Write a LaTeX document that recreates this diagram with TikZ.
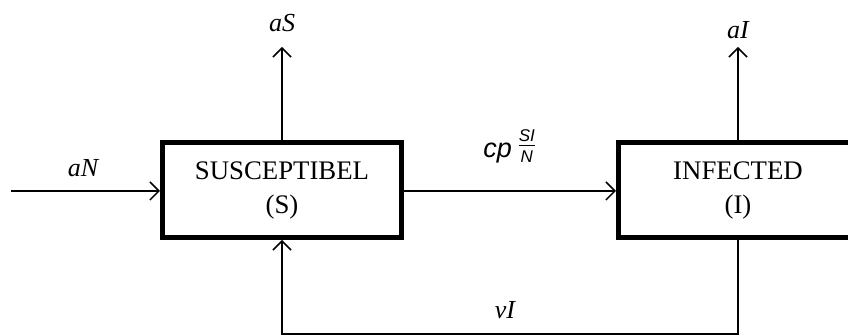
\documentclass[tikz,border=0pt]{standalone}
\usepackage{fontspec}
\setmainfont{Liberation Serif}
\newfontfamily\sansfam{Liberation Sans}
\usetikzlibrary{arrows.meta}
\begin{document}
\begin{tikzpicture}[x=0.5pt,y=-0.5pt,
  box/.style={draw,line width=2.5pt,minimum width=119.5pt,minimum height=47.5pt,inner sep=0pt,align=center,font=\fontsize{13.4}{17}\selectfont},
  conn/.style={line width=0.75pt,-{Straight Barb[length=4.5pt,width=9pt,line width=0.75pt]}},
  lab/.style={font=\fontsize{13}{14}\selectfont\itshape,inner sep=0pt}]
\useasboundingbox (0,0) rectangle (848,336);
\clip (0,0) rectangle (848,336);
\node[box] (S) at (282,190) {SUSCEPTIBEL\\(S)};
\node[box] (I) at (738,190) {INFECTED\\(I)};
\coordinate (inL) at (11,191);
\coordinate (topS) at (282,47);
\coordinate (topI) at (738,47);
\coordinate (botI) at (738,334);
\coordinate (botS) at (282,334);
\draw[conn] (inL) -- (S.west |- inL);
\draw[conn] (S.north) -- (topS);
\draw[conn] (I.north) -- (topI);
\draw[conn] (S.east |- inL) -- (I.west |- inL);
\draw[conn] (I.south) -- (botI) -- (botS) -- (S.south);
\node[lab] (laN) at (83,168) {aN};
\node[lab] (laS) at (282,23) {aS};
\node[lab] (laI) at (738,30) {aI};
\node[lab] (lvI) at (505,310) {vI};
\node[inner sep=0pt,anchor=base west,font=\sansfam\itshape\fontsize{13.5}{15}\selectfont] (lcp) at (483,158) {cp\,\raisebox{2.5pt}{$\frac{\mbox{\sansfam\itshape\fontsize{8.5}{9}\selectfont SI}}{\mbox{\sansfam\itshape\fontsize{8.5}{9}\selectfont N}}$}};
\end{tikzpicture}
\end{document}
